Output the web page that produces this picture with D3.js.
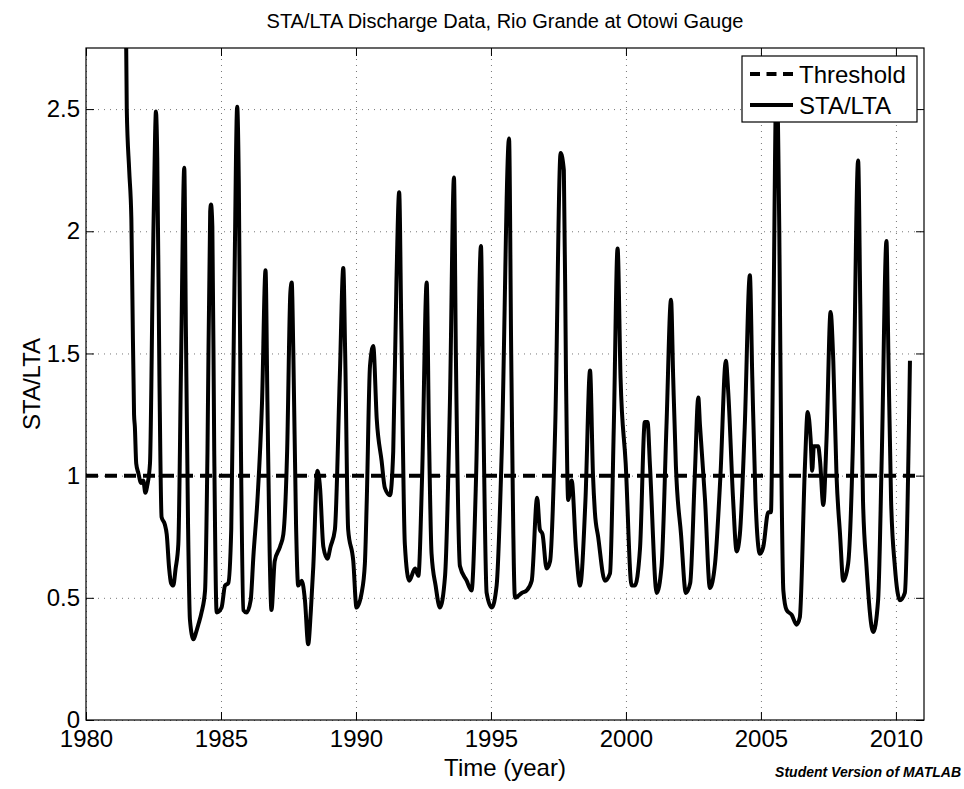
<!DOCTYPE html>
<html>
<head>
<meta charset="utf-8">
<script src="https://cdn.jsdelivr.net/npm/d3@7"></script>
<style>
body { margin: 0; background: #fff; }
text { font-family: "Liberation Sans", Arial, Helvetica, sans-serif; fill: #000; }
.grid line { stroke: #777; stroke-width: 1; stroke-dasharray: 1,5; }
.grid path { display: none; }
.ticks path { display: none; }
.ticks line { stroke: #000; stroke-width: 1; }
</style>
</head>
<body>
<svg id="chart"></svg>
<script>
var width = 964;
var height = 789;
var plotLeft = 86;
var plotRight = 924;
var plotTop = 48;
var plotBottom = 720;
var tickLen = 8;
var fontSize = 24;

var titleText = "STA/LTA Discharge Data, Rio Grande at Otowi Gauge";
var xLabel = "Time (year)";
var yLabel = "STA/LTA";
var seriesNames = ["Threshold", "STA/LTA"];
var xTicks = [1980, 1985, 1990, 1995, 2000, 2005, 2010];
var yTicks = [0, 0.5, 1, 1.5, 2, 2.5];
var xDomain = [1980, 2011.04];
var yDomain = [0, 2.75];

// threshold line
var thresholdYears = [1980, 2010.8];
var thresholdValues = [1, 1];

// STA/LTA
var years = [1981.46, 1981.51, 1981.60, 1981.68, 1981.72, 1981.78, 1981.81, 1981.86, 1981.94, 1982.04,
	1982.12, 1982.20, 1982.27, 1982.37, 1982.47, 1982.56, 1982.59, 1982.64, 1982.72, 1982.80,
	1982.92, 1982.99, 1983.08, 1983.15, 1983.23, 1983.32, 1983.42, 1983.52, 1983.64, 1983.70,
	1983.78, 1983.85, 1983.98, 1984.08, 1984.16, 1984.28, 1984.41, 1984.50, 1984.60, 1984.63,
	1984.68, 1984.75, 1984.84, 1985.02, 1985.15, 1985.27, 1985.38, 1985.50, 1985.60, 1985.66,
	1985.74, 1985.83, 1985.95, 1986.10, 1986.20, 1986.35, 1986.52, 1986.65, 1986.72, 1986.80,
	1986.87, 1986.99, 1987.19, 1987.31, 1987.45, 1987.57, 1987.62, 1987.68, 1987.78, 1987.86,
	1987.99, 1988.11, 1988.23, 1988.33, 1988.42, 1988.57, 1988.67, 1988.79, 1988.94, 1989.06,
	1989.22, 1989.40, 1989.53, 1989.60, 1989.71, 1989.90, 1990.02, 1990.21, 1990.33, 1990.40,
	1990.52, 1990.64, 1990.77, 1990.95, 1991.07, 1991.26, 1991.38, 1991.50, 1991.60, 1991.68,
	1991.81, 1991.97, 1992.19, 1992.31, 1992.45, 1992.62, 1992.70, 1992.80, 1992.95, 1993.11,
	1993.30, 1993.48, 1993.63, 1993.70, 1993.85, 1994.10, 1994.28, 1994.45, 1994.63, 1994.70,
	1994.84, 1995.03, 1995.21, 1995.40, 1995.67, 1995.75, 1995.89, 1996.14, 1996.32, 1996.51,
	1996.71, 1996.81, 1996.91, 1997.06, 1997.19, 1997.38, 1997.58, 1997.70, 1997.78, 1997.86,
	1997.99, 1998.15, 1998.30, 1998.50, 1998.67, 1998.78, 1998.85, 1998.97, 1999.22, 1999.41,
	1999.55, 1999.69, 1999.80, 1999.99, 2000.21, 2000.33, 2000.52, 2000.70, 2000.80, 2000.89,
	2001.14, 2001.32, 2001.50, 2001.67, 2001.75, 2001.85, 2002.04, 2002.22, 2002.38, 2002.55,
	2002.68, 2002.74, 2002.93, 2003.11, 2003.30, 2003.50, 2003.70, 2003.79, 2003.97, 2004.10,
	2004.22, 2004.40, 2004.59, 2004.68, 2004.80, 2004.96, 2005.09, 2005.27, 2005.37, 2005.45,
	2005.58, 2005.68, 2005.76, 2005.83, 2005.95, 2006.14, 2006.32, 2006.44, 2006.63, 2006.73,
	2006.84, 2006.90, 2006.96, 2007.12, 2007.19, 2007.31, 2007.43, 2007.58, 2007.68, 2007.80,
	2007.93, 2008.05, 2008.23, 2008.40, 2008.60, 2008.68, 2008.78, 2008.91, 2009.16, 2009.34,
	2009.48, 2009.65, 2009.72, 2009.82, 2009.96, 2010.15, 2010.33, 2010.52];
var staLta = [3.10, 2.50, 2.25, 2.05, 1.72, 1.25, 1.20, 1.05, 1.01, 0.97,
	0.98, 0.93, 0.96, 1.05, 1.80, 2.40, 2.49, 2.30, 1.40, 0.83,
	0.80, 0.76, 0.62, 0.56, 0.55, 0.62, 0.72, 1.45, 2.26, 1.60,
	0.80, 0.41, 0.33, 0.36, 0.39, 0.44, 0.53, 1.10, 2.08, 2.11,
	2.02, 1.10, 0.44, 0.46, 0.55, 0.56, 0.78, 1.80, 2.51, 2.20,
	1.10, 0.45, 0.44, 0.49, 0.67, 0.90, 1.30, 1.84, 1.30, 0.70,
	0.45, 0.65, 0.71, 0.76, 1.10, 1.75, 1.79, 1.50, 0.80, 0.55,
	0.57, 0.49, 0.31, 0.45, 0.63, 1.02, 0.95, 0.71, 0.66, 0.71,
	0.78, 1.40, 1.85, 1.50, 0.78, 0.65, 0.46, 0.52, 0.64, 0.90,
	1.45, 1.53, 1.23, 1.06, 0.95, 0.92, 1.10, 1.80, 2.16, 1.60,
	0.72, 0.57, 0.62, 0.59, 1.00, 1.79, 1.20, 0.68, 0.55, 0.46,
	0.59, 1.30, 2.22, 1.50, 0.63, 0.57, 0.53, 1.00, 1.94, 1.40,
	0.52, 0.46, 0.55, 1.10, 2.38, 1.50, 0.50, 0.52, 0.53, 0.57,
	0.91, 0.78, 0.76, 0.62, 0.65, 1.20, 2.32, 2.25, 1.40, 0.90,
	0.98, 0.70, 0.55, 0.90, 1.43, 1.00, 0.85, 0.75, 0.57, 0.60,
	1.20, 1.93, 1.40, 1.05, 0.55, 0.55, 0.70, 1.22, 1.22, 1.04,
	0.52, 0.63, 1.20, 1.72, 1.40, 1.04, 0.76, 0.52, 0.56, 1.00,
	1.32, 1.21, 0.90, 0.54, 0.64, 1.00, 1.47, 1.34, 0.90, 0.69,
	0.76, 1.20, 1.82, 1.40, 0.90, 0.68, 0.71, 0.85, 0.85, 1.50,
	2.65, 2.00, 1.00, 0.53, 0.45, 0.43, 0.39, 0.42, 1.04, 1.26,
	1.15, 1.02, 1.12, 1.12, 1.06, 0.88, 1.15, 1.67, 1.47, 1.00,
	0.76, 0.57, 0.64, 1.10, 2.29, 1.70, 0.90, 0.63, 0.36, 0.49,
	1.10, 1.96, 1.50, 0.90, 0.63, 0.49, 0.52, 1.47];

var x = d3.scaleLinear().domain(xDomain).range([plotLeft, plotRight]);
var y = d3.scaleLinear().domain(yDomain).range([plotBottom, plotTop]);

var svg = d3.select("#chart")
	.attr("width", width)
	.attr("height", height);

svg.append("defs").append("clipPath")
	.attr("id", "plotClip")
	.append("rect")
	.attr("x", plotLeft)
	.attr("y", plotTop)
	.attr("width", plotRight - plotLeft)
	.attr("height", plotBottom - plotTop);

// dotted grid
svg.append("g")
	.attr("class", "grid")
	.attr("transform", "translate(0," + plotBottom + ")")
	.call(d3.axisBottom(x).tickValues(xTicks).tickSize(-(plotBottom - plotTop)).tickFormat(""));
svg.append("g")
	.attr("class", "grid")
	.attr("transform", "translate(" + plotLeft + ",0)")
	.call(d3.axisLeft(y).tickValues(yTicks).tickSize(-(plotRight - plotLeft)).tickFormat(""));

// threshold
var thresholdData = thresholdYears.map(function(d, i) { return [d, thresholdValues[i]]; });
var seriesData = years.map(function(d, i) { return [d, staLta[i]]; });

var line = d3.line()
	.x(function(d) { return x(d[0]); })
	.y(function(d) { return y(d[1]); });

svg.append("path")
	.datum(thresholdData)
	.attr("clip-path", "url(#plotClip)")
	.attr("fill", "none")
	.attr("stroke", "#000")
	.attr("stroke-width", 4)
	.attr("stroke-dasharray", "12,7")
	.attr("d", line);

svg.append("path")
	.datum(seriesData)
	.attr("clip-path", "url(#plotClip)")
	.attr("fill", "none")
	.attr("stroke", "#000")
	.attr("stroke-width", 4)
	.attr("stroke-linejoin", "round")
	.attr("d", line.curve(d3.curveMonotoneX));

// ticks on all four sides, pointing in
svg.append("g")
	.attr("class", "ticks")
	.attr("transform", "translate(0," + plotBottom + ")")
	.call(d3.axisBottom(x).tickValues(xTicks).tickSizeInner(-tickLen).tickSizeOuter(0).tickPadding(10)
		.tickFormat(function(d) { return String(d); }));
svg.append("g")
	.attr("class", "ticks")
	.attr("transform", "translate(0," + plotTop + ")")
	.call(d3.axisTop(x).tickValues(xTicks).tickSizeInner(-tickLen).tickSizeOuter(0).tickFormat(""));
svg.append("g")
	.attr("class", "ticks")
	.attr("transform", "translate(" + plotLeft + ",0)")
	.call(d3.axisLeft(y).tickValues(yTicks).tickSizeInner(-tickLen).tickSizeOuter(0).tickPadding(6)
		.tickFormat(function(d) { return String(d); }));
svg.append("g")
	.attr("class", "ticks")
	.attr("transform", "translate(" + plotRight + ",0)")
	.call(d3.axisRight(y).tickValues(yTicks).tickSizeInner(-tickLen).tickSizeOuter(0).tickFormat(""));

svg.selectAll(".ticks text")
	.attr("font-family", null)
	.attr("font-size", fontSize);

svg.append("rect")
	.attr("x", plotLeft)
	.attr("y", plotTop)
	.attr("width", plotRight - plotLeft)
	.attr("height", plotBottom - plotTop)
	.attr("fill", "none")
	.attr("stroke", "#000")
	.attr("stroke-width", 1.2);

// legend
var legend = svg.append("g").attr("transform", "translate(742,56)");
legend.append("rect")
	.attr("width", 175)
	.attr("height", 66)
	.attr("fill", "#fff")
	.attr("stroke", "#000")
	.attr("stroke-width", 1.2);
var rows = legend.selectAll("g.row").data(seriesNames)
	.enter().append("g")
	.attr("class", "row")
	.attr("transform", function(d, i) { return "translate(0," + (18 + i * 31) + ")"; });
rows.append("line")
	.attr("x1", 8).attr("x2", 51)
	.attr("stroke", "#000")
	.attr("stroke-width", 4)
	.attr("stroke-dasharray", function(d, i) { return i == 0 ? "10,6.5" : null; });
rows.append("text")
	.attr("x", 57)
	.attr("dy", "0.36em")
	.attr("font-size", fontSize)
	.text(function(d) { return d; });

// titles
svg.append("text")
	.attr("x", (plotLeft + plotRight) / 2)
	.attr("y", 28)
	.attr("text-anchor", "middle")
	.attr("font-size", 20)
	.text(titleText);
svg.append("text")
	.attr("x", (plotLeft + plotRight) / 2)
	.attr("y", 776)
	.attr("text-anchor", "middle")
	.attr("font-size", fontSize)
	.text(xLabel);
svg.append("text")
	.attr("transform", "translate(40," + (plotTop + plotBottom) / 2 + ") rotate(-90)")
	.attr("text-anchor", "middle")
	.attr("font-size", fontSize)
	.text(yLabel);
svg.append("text")
	.attr("x", 961)
	.attr("y", 777)
	.attr("text-anchor", "end")
	.attr("font-size", 14)
	.attr("font-weight", "bold")
	.attr("font-style", "italic")
	.text("Student Version of MATLAB");
</script>
</body>
</html>
